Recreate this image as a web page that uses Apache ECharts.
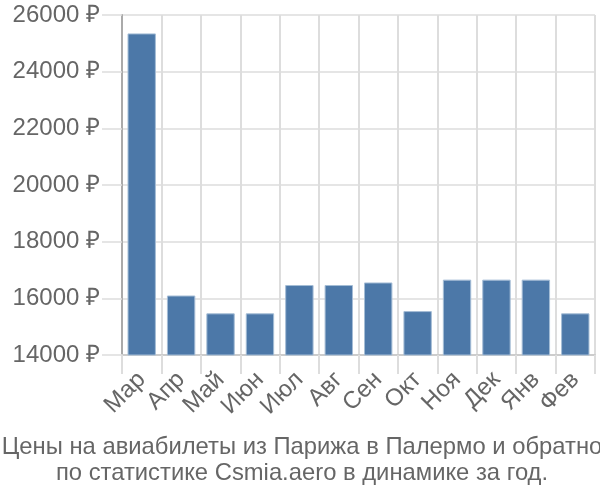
<!DOCTYPE html>
<html><head><meta charset="utf-8">
<script src="https://cdn.jsdelivr.net/npm/echarts@6/dist/echarts.min.js"></script>
<style>html,body{margin:0;padding:0;background:#fff}#c{width:600px;height:500px}</style>
</head><body><div id="c"></div>
<script>
const categories = ['Мар','Апр','Май','Июн','Июл','Авг','Сен','Окт','Ноя','Дек','Янв','Фев'];
const prices = [25350, 16100, 15470, 15470, 16470, 16470, 16560, 15550, 16660, 16660, 16660, 15470];
const yMin = 14000, yMax = 26000, yStep = 2000;
const titleLines = ['Цены на авиабилеты из Парижа в Палермо и обратно', 'по статистике Csmia.aero в динамике за год.'];
const FONT = 'Liberation Sans';
const chart = echarts.init(document.getElementById('c'), null, {renderer: 'canvas'});
chart.setOption({
  animation: false,
  textStyle: {fontFamily: FONT},
  title: {
    text: titleLines.join('\n'), left: 297, top: 429, textAlign: 'center',
    textStyle: {fontFamily: FONT, fontSize: 23.8, fontWeight: 'normal', color: '#666', lineHeight: 26}
  },
  grid: {left: 122, right: 5, top: 15, bottom: 145},
  xAxis: {
    type: 'category', data: categories, boundaryGap: true,
    axisLine: {show: true, lineStyle: {color: '#ccc', width: 2}},
    axisTick: {show: true, length: 19, lineStyle: {color: '#ddd', width: 2}},
    splitLine: {show: true, lineStyle: {color: '#ddd', width: 2}},
    axisLabel: {rotate: 45, fontSize: 24, color: '#666', margin: 21, fontFamily: FONT, interval: 0}
  },
  yAxis: {
    type: 'value', min: yMin, max: yMax, interval: yStep,
    axisLine: {show: true, lineStyle: {color: '#aaa', width: 2}},
    axisTick: {show: true, length: 20, lineStyle: {color: '#ddd', width: 1.5}},
    splitLine: {show: true, lineStyle: {color: '#ddd', width: 1.5}},
    axisLabel: {fontSize: 24, color: '#666', margin: 22, fontFamily: FONT, formatter: v => v + ' ₽'}
  },
  series: [{
    type: 'bar', data: prices, barCategoryGap: '28%',
    itemStyle: {color: '#4c78a8', borderColor: '#a5bdd6', borderWidth: 1}
  }]
});
</script></body></html>
